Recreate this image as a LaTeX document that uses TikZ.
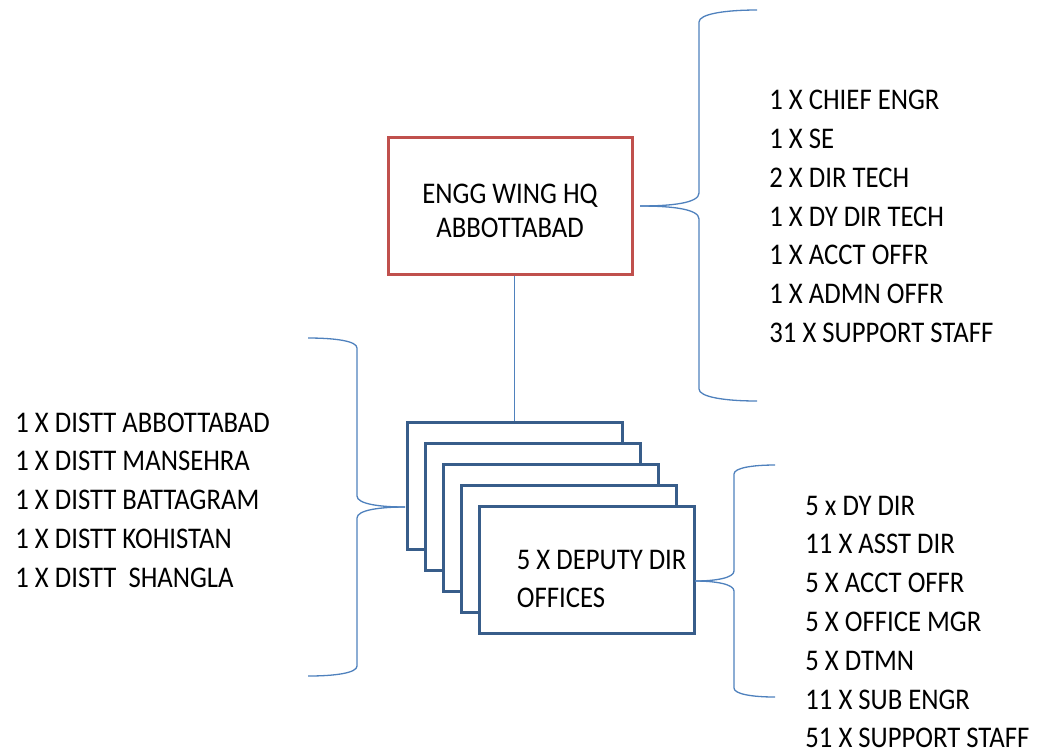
\documentclass[tikz,border=0pt]{standalone}
\usepackage{fontspec}
\setmainfont{Carlito}[FakeStretch=0.89]
\usetikzlibrary{positioning}
\definecolor{hqred}{RGB}{192,80,77}
\definecolor{officeblue}{RGB}{56,93,138}
\definecolor{linkblue}{RGB}{79,129,189}

\begin{document}
\begin{tikzpicture}[
    x=0.5pt, y=-0.5pt,
    hqbox/.style={draw=hqred, line width=1.5pt, fill=white, align=center,
      minimum width=122pt, minimum height=68.5pt, font=\fontsize{15}{17}\selectfont},
    officebox/.style={draw=officeblue, line width=1.5pt, fill=white,
      minimum width=107.5pt, minimum height=63.5pt},
    stafflist/.style={align=left, inner sep=0pt, font=\fontsize{15}{19.4}\selectfont},
    link/.style={draw=linkblue, line width=0.65pt}
  ]
    \useasboundingbox (0,0) rectangle (1037,751);
    \node[hqbox] (hq) at (510,205.5) {\rule{0pt}{15pt}ENGG WING HQ\\ABBOTTABAD};
    % stacked deputy dir offices
    \foreach \i in {0,...,4}
      \node[officebox] (off\i) at (514.5+18*\i, 485.5+21*\i) {};
    \node[stafflist, anchor=west, font=\fontsize{15}{19}\selectfont]
      (offtext) at ([xshift=19.5pt, yshift=-4.5pt]off4.west) {5 X DEPUTY DIR\\OFFICES};
    \node[stafflist, anchor=west] (hqstaff) at (769,216.5)
      {1 X CHIEF ENGR\\1 X SE\\2 X DIR TECH\\1 X DY DIR TECH\\1 X ACCT OFFR\\1 X ADMN OFFR\\31 X SUPPORT STAFF};
    \node[stafflist, anchor=west] (districts) at (15,500)
      {1 X DISTT ABBOTTABAD\\1 X DISTT MANSEHRA\\1 X DISTT BATTAGRAM\\1 X DISTT KOHISTAN\\1 X DISTT\ \ SHANGLA};
    \node[stafflist, anchor=west] (offstaff) at (805,622)
      {5 x DY DIR\\11 X ASST DIR\\5 X ACCT OFFR\\5 X OFFICE MGR\\5 X DTMN\\11 X SUB ENGR\\51 X SUPPORT STAFF};
    \coordinate (hqtip) at (640,206);
    \coordinate (distip) at (405,507);
    \coordinate (offtip) at (695,581);
    \begin{scope}[on background layer/.try]
      \draw[link] (off0.north |- hq.south) -- (off0.north);
    \end{scope}
    % braces
    \draw[link] (hqtip) .. controls (672,206) and (699,203) .. (699,193) -- (699,22)
      .. controls (699,14) and (725,10) .. (757,10);
    \draw[link] (hqtip) .. controls (672,206) and (699,209) .. (699,219) -- (699,389)
      .. controls (699,397) and (725,401) .. (757,401);
    \draw[link] (distip) .. controls (380,507) and (357,504) .. (357,496) -- (357,348)
      .. controls (357,341) and (335,338) .. (308,338);
    \draw[link] (distip) .. controls (380,507) and (357,510) .. (357,518) -- (357,666)
      .. controls (357,673) and (335,676) .. (308,676);
    \draw[link] (offtip) .. controls (715,581) and (734,578) .. (734,571) -- (734,474)
      .. controls (734,468) and (752,465) .. (775,465);
    \draw[link] (offtip) .. controls (715,581) and (734,584) .. (734,591) -- (734,688)
      .. controls (734,694) and (752,697) .. (775,697);
  \end{tikzpicture}
\end{document}
